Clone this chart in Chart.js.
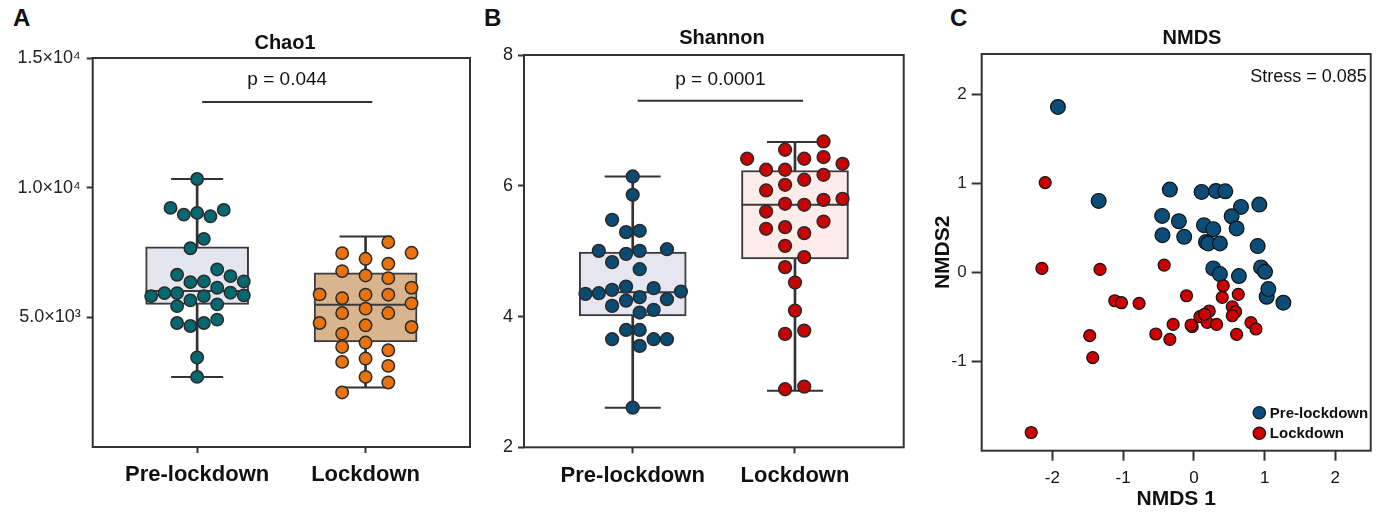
<!DOCTYPE html>
<html>
<head>
<meta charset="utf-8">
<script src="https://cdn.jsdelivr.net/npm/chart.js@4.4.0/dist/chart.umd.min.js"></script>
<style>
html,body{margin:0;padding:0;background:#fff;width:1384px;height:513px;overflow:hidden;font-family:'Liberation Sans',Arial,sans-serif;}
.panel{position:absolute;top:0;height:513px;}
.letter{position:absolute;font-weight:bold;font-size:24px;color:#111;line-height:1;}
</style>
</head>
<body>
<div class="letter" style="left:13px;top:6px">A</div>
<div class="letter" style="left:484px;top:6px">B</div>
<div class="letter" style="left:950px;top:6px">C</div>
<div class="panel" style="left:0;width:480px"><canvas id="cA"></canvas></div>
<div class="panel" style="left:480px;width:440px"><canvas id="cB"></canvas></div>
<div class="panel" style="left:920px;width:464px"><canvas id="cC"></canvas></div>
<script>
// ---------------- DATA ----------------
const groups = ['Pre-lockdown', 'Lockdown'];

// Panel A – Chao1 (swarm offset within group, value)
const chaoPreOffset = [0,-0.158,-0.079,0,0.079,0.158,0.040,-0.040,-0.119,0.119,0.198,-0.040,0.040,0.277,-0.273,-0.194,-0.119,-0.040,0.040,0.119,0.198,0.277,-0.119,0.119,-0.119,-0.040,0.040,0.119,0,0];
const chaoPreValue  = [10334,9219,8961,9027,8896,9142,8027,7665,6642,6846,6588,6357,6384,6384,5819,5934,5934,5654,5819,6142,5950,5846,5434,5500,4781,4665,4781,4911,3450,2704];
const chaoLockOffset = [0.135,-0.139,0.273,0,0.135,-0.139,0,0.135,0.273,-0.273,-0.139,0,0.135,0.273,-0.139,0,0.135,-0.273,0.273,0,-0.139,-0.139,0,0.135,-0.139,0,0.135,0,0.135,-0.139];
const chaoLockValue  = [7897,7474,7488,7257,7065,6781,6615,6511,6142,5884,5742,5873,5873,5538,5165,5334,5165,4781,4627,4692,4373,3858,4027,3731,3281,3411,3127,2704,2488,2104];
const chaoMin = [2704, 2296];
const chaoQ1  = [5500, 4050];
const chaoMed = [6012, 5488];
const chaoQ3  = [7715, 6719];
const chaoMax = [10334, 8115];
const chaoTickValues = [5000, 10000, 15000];
const chaoTickLabels = ['5.0×10³', '1.0×10⁴', '1.5×10⁴'];
const chaoSigX = [1.03, 2.04];
const chaoSigY = 13300;
const chaoP = 'p = 0.044';

// Panel B – Shannon
const shanPreOffset = [0,0,-0.127,-0.041,0.043,-0.209,-0.041,0.043,0.211,-0.127,0.043,-0.291,-0.209,-0.127,-0.041,0.043,0.129,0.297,0.211,-0.041,-0.127,0.129,0.043,-0.127,-0.041,0.043,0.129,0.211,0.043,0];
const shanPreValue  = [6.142,5.862,5.479,5.291,5.311,5.005,4.959,5.005,5.03,4.832,4.724,4.347,4.357,4.408,4.458,4.296,4.434,4.382,4.265,4.244,4.163,4.102,4.061,3.653,3.795,3.795,3.653,3.653,3.551,2.606];
const shanLockOffset = [0.176,-0.061,-0.295,0.057,0.176,0.293,-0.178,-0.061,0.176,0.057,-0.061,-0.178,-0.061,0.057,0.176,0.293,-0.178,0.176,-0.178,-0.061,0.057,-0.061,0.057,-0.061,0,0,-0.061,0.057,-0.061,0.057];
const shanLockValue  = [6.678,6.551,6.413,6.413,6.439,6.336,6.245,6.245,6.168,6.092,6.015,5.928,5.724,5.709,5.785,5.801,5.606,5.453,5.342,5.367,5.276,5.081,4.908,4.755,4.52,4.091,3.734,3.785,2.888,2.928];
const shanMin = [2.606, 2.866];
const shanQ1  = [4.01, 4.882];
const shanMed = [4.372, 5.709];
const shanQ3  = [4.985, 6.234];
const shanMax = [6.14, 6.668];
const shanTickValues = [2, 4, 6, 8];
const shanSigX = [1.03, 2.05];
const shanSigY = 7.30;
const shanP = 'p = 0.0001';

// Panel C – NMDS
const nmdsPreX = [-1.922,-1.346,-0.340,0.109,0.312,0.444,0.666,0.925,0.534,0.604,-0.449,-0.212,-0.444,-0.137,0.142,0.274,0.170,0.203,0.368,0.902,0.274,0.368,0.637,0.950,1.006,1.029,1.053,1.265];
const nmdsPreY = [1.856,0.802,0.929,0.903,0.914,0.910,0.735,0.761,0.630,0.493,0.634,0.574,0.418,0.399,0.530,0.485,0.340,0.325,0.325,0.295,0.045,-0.019,-0.041,0.056,0.007,-0.273,-0.187,-0.340];
const nmdsLockX = [-2.102,-2.149,-1.327,-0.420,-2.300,-1.473,-1.430,-1.119,-1.024,-0.775,-0.538,-0.340,-0.293,-0.104,-0.024,-0.040,0.085,0.189,0.217,0.321,0.415,0.401,0.628,0.543,0.590,0.543,0.604,0.807,0.878,0.150];
const nmdsLockY = [1.008,0.045,0.034,0.082,-1.796,-0.710,-0.955,-0.318,-0.340,-0.347,-0.691,-0.751,-0.583,-0.262,-0.609,-0.590,-0.497,-0.560,-0.433,-0.583,-0.150,-0.280,-0.246,-0.385,-0.441,-0.486,-0.695,-0.564,-0.635,-0.470];
const nmdsXTicks = [-2, -1, 0, 1, 2];
const nmdsYTicks = [-1, 0, 1, 2];
const stressText = 'Stress = 0.085';

// ---------------- HELPERS ----------------
const FONT = "'Liberation Sans', Arial, sans-serif";
const AX = '#333333';

const framePlugin = {
  id: 'frame',
  beforeDatasetsDraw(chart) {
    const a = chart.chartArea, ctx = chart.ctx;
    ctx.save(); ctx.strokeStyle = AX; ctx.lineWidth = 2;
    ctx.strokeRect(a.left, a.top, a.right - a.left, a.bottom - a.top);
    ctx.restore();
  }
};

function textPlugin(items) {
  return {
    id: 'texts',
    afterDraw(chart) {
      const ctx = chart.ctx;
      ctx.save();
      items.forEach(it => {
        let x = it.x, y = it.y;
        if (it.data) {
          x = chart.scales.x.getPixelForValue(it.data[0]);
          y = chart.scales.y.getPixelForValue(it.data[1]) + it.dy;
        }
        ctx.font = it.font; ctx.fillStyle = it.color || '#111';
        ctx.textAlign = it.align || 'center'; ctx.textBaseline = 'middle';
        ctx.fillText(it.text, x, y);
      });
      ctx.restore();
    }
  };
}

const zip = (offs, vals, g) => vals.map((v, i) => ({x: g + offs[i], y: v}));

function boxDatasets(minA, q1A, medA, q3A, maxA, fills, boxW, capR) {
  return [
    {type:'bar', grouped:false, data: groups.map((g,i)=>({x:i+1, y:[minA[i], maxA[i]]})), backgroundColor:'#333', borderWidth:0, barThickness:2, order:4},
    {type:'bar', grouped:false, data: groups.map((g,i)=>({x:i+1, y:[q1A[i], q3A[i]]})), backgroundColor:fills, borderColor:'#3a3a3a', borderWidth:2, borderSkipped:false, barThickness:boxW, order:3},
    {type:'scatter', data: groups.flatMap((g,i)=>[{x:i+1,y:minA[i]},{x:i+1,y:maxA[i]}]), pointStyle:'line', pointRadius:capR, borderColor:'#333', borderWidth:2, order:2},
    {type:'scatter', data: groups.map((g,i)=>({x:i+1,y:medA[i]})), pointStyle:'line', pointRadius:boxW/2, borderColor:'#3a3a3a', borderWidth:2, order:2}
  ];
}

function baseScales(o) {
  return {
    x: {type:'linear', min:o.xmin, max:o.xmax, offset:false,
      afterBuildTicks: s => { s.ticks = o.xticks.map(v => ({value:v})); },
      afterFit: s => { s.height = o.xh; },
      ticks: {callback: o.xcb, font:o.xfont, color:'#111', padding:o.xpad, autoSkip:false, maxRotation:0},
      grid: {display:true, offset:false, drawOnChartArea:false, drawTicks:true, tickLength:o.tl, tickColor:AX, tickWidth:2},
      border: {display:false},
      title: o.xtitle || {display:false}
    },
    y: {type:'linear', min:o.ymin, max:o.ymax, offset:false, beginAtZero:false,
      afterBuildTicks: s => { s.ticks = o.yticks.map(v => ({value:v})); },
      afterFit: s => { s.width = o.yw; },
      ticks: {callback: o.ycb, font:o.yfont, color:'#222', padding:o.ypad},
      grid: {display:true, offset:false, drawOnChartArea:false, drawTicks:true, tickLength:o.tl, tickColor:AX, tickWidth:2},
      border: {display:false},
      title: o.ytitle || {display:false}
    }
  };
}

const commonOpts = {
  responsive:true, maintainAspectRatio:false, animation:false,
  plugins:{legend:{display:false}, tooltip:{enabled:false}},
  events:[]
};

// ---------------- PANEL A ----------------
new Chart(document.getElementById('cA'), {
  type:'scatter',
  data:{datasets:[
    {data: zip(chaoPreOffset, chaoPreValue, 1), backgroundColor:'#05676f', borderColor:'#2a2a2a', borderWidth:1.5, pointRadius:6.2, order:0},
    {data: zip(chaoLockOffset, chaoLockValue, 2), backgroundColor:'#ea720c', borderColor:'#2a2a2a', borderWidth:1.5, pointRadius:6.2, order:0},
    ...boxDatasets(chaoMin, chaoQ1, chaoMed, chaoQ3, chaoMax, ['#e5e5f0','#d8b48f'], 103, 26),
    {type:'line', data: chaoSigX.map(x=>({x, y:chaoSigY})), borderColor:'#333', borderWidth:2, pointRadius:0, order:1}
  ]},
  options:{...commonOpts,
    layout:{autoPadding:false, padding:{left:0, right:10, top:58, bottom:0}},
    scales: baseScales({xmin:0.38, xmax:2.62, xticks:[1,2], xh:66, xcb:v=>groups[v-1],
      xfont:{size:22, weight:'bold', family:FONT}, xpad:9, tl:6,
      ymin:0, ymax:15000, yticks:chaoTickValues, yw:92.7, ycb:v=>chaoTickLabels[chaoTickValues.indexOf(v)],
      yfont:{size:18, family:FONT}, ypad:6})
  },
  plugins:[framePlugin, textPlugin([
    {text:'Chao1', x:285, y:43, font:`bold 20px ${FONT}`},
    {text:chaoP, data:[(chaoSigX[0]+chaoSigX[1])/2, chaoSigY], dy:-22, font:`19px ${FONT}`}
  ])]
});

// ---------------- PANEL B ----------------
new Chart(document.getElementById('cB'), {
  type:'scatter',
  data:{datasets:[
    {data: zip(shanPreOffset, shanPreValue, 1), backgroundColor:'#0a4b74', borderColor:'#2a2a2a', borderWidth:1.5, pointRadius:6.4, order:0},
    {data: zip(shanLockOffset, shanLockValue, 2), backgroundColor:'#c80303', borderColor:'#2a2a2a', borderWidth:1.5, pointRadius:6.4, order:0},
    ...boxDatasets(shanMin, shanQ1, shanMed, shanQ3, shanMax, ['#e6e6f1','#fdecea'], 107, 28),
    {type:'line', data: shanSigX.map(x=>({x, y:shanSigY})), borderColor:'#333', borderWidth:2, pointRadius:0, order:1}
  ]},
  options:{...commonOpts,
    layout:{autoPadding:false, padding:{left:0, right:16.3, top:55, bottom:0}},
    scales: baseScales({xmin:0.33, xmax:2.67, xticks:[1,2], xh:65.7, xcb:v=>groups[v-1],
      xfont:{size:22, weight:'bold', family:FONT}, xpad:9, tl:6,
      ymin:2, ymax:8, yticks:shanTickValues, yw:44, ycb:v=>String(v),
      yfont:{size:18, family:FONT}, ypad:5})
  },
  plugins:[framePlugin, textPlugin([
    {text:'Shannon', x:242, y:38, font:`bold 20px ${FONT}`},
    {text:shanP, data:[(shanSigX[0]+shanSigX[1])/2, shanSigY], dy:-21, font:`19px ${FONT}`}
  ])]
});

// ---------------- PANEL C ----------------
const legendPlugin = {
  id:'nmdsLegend',
  afterDraw(chart) {
    const a = chart.chartArea, ctx = chart.ctx;
    const items = [{t:groups[0], c:'#0b4d78'}, {t:groups[1], c:'#cc0000'}];
    ctx.save();
    items.forEach((it, i) => {
      const cx = a.right - 111.4, cy = a.bottom - 38 + i * 20.6;
      ctx.beginPath(); ctx.arc(cx, cy, 6.2, 0, Math.PI*2);
      ctx.fillStyle = it.c; ctx.fill(); ctx.lineWidth = 1.2; ctx.strokeStyle = '#111'; ctx.stroke();
      ctx.fillStyle = '#111'; ctx.font = `bold 15px ${FONT}`; ctx.textAlign = 'left'; ctx.textBaseline = 'middle';
      ctx.fillText(it.t, cx + 10.5, cy + 1);
    });
    ctx.restore();
  }
};

new Chart(document.getElementById('cC'), {
  type:'scatter',
  data:{datasets:[
    {label:groups[1], data: nmdsLockX.map((x,i)=>({x, y:nmdsLockY[i]})), backgroundColor:'#cc0000', borderColor:'#111', borderWidth:1.2, pointRadius:6, order:0},
    {label:groups[0], data: nmdsPreX.map((x,i)=>({x, y:nmdsPreY[i]})), backgroundColor:'#0b4d78', borderColor:'#111', borderWidth:1.2, pointRadius:7.4, order:1}
  ]},
  options:{...commonOpts,
    layout:{autoPadding:false, padding:{left:0, right:13.3, top:54, bottom:0}},
    scales: baseScales({xmin:-3, xmax:2.5, xticks:nmdsXTicks, xh:62.3, xcb:v=>String(v),
      xfont:{size:17, family:FONT}, xpad:7, tl:10,
      ymin:-2, ymax:2.45, yticks:nmdsYTicks, yw:61.7, ycb:v=>String(v),
      yfont:{size:17, family:FONT}, ypad:5,
      xtitle:{display:true, text:'NMDS 1', font:{size:21, weight:'bold', family:FONT}, color:'#111', padding:{top:0, bottom:1}},
      ytitle:{display:true, text:'NMDS2', font:{size:21, weight:'bold', family:FONT}, color:'#111', padding:{top:11, bottom:0}}
    })
  },
  plugins:[framePlugin, legendPlugin, textPlugin([
    {text:'NMDS', x:272, y:38, font:`bold 20px ${FONT}`},
    {text:stressText, x:446.7, y:77, font:`18px ${FONT}`, align:'right'}
  ])]
});
</script>
</body>
</html>
